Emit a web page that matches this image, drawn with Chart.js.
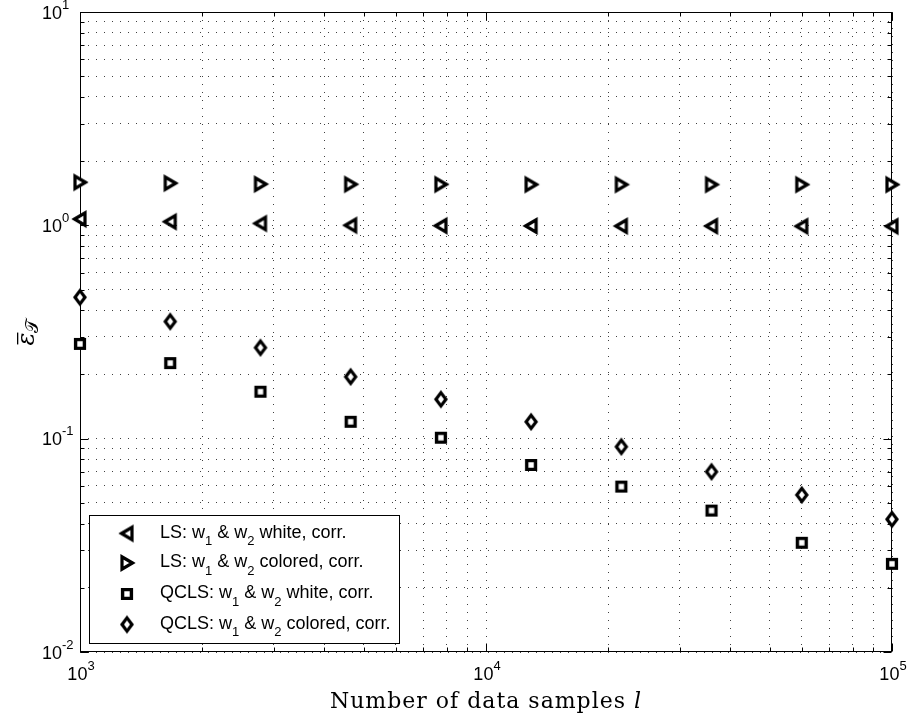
<!DOCTYPE html>
<html>
<head>
<meta charset="utf-8">
<title>Error vs number of samples</title>
<script src="https://cdn.jsdelivr.net/npm/chart.js@4.4.1/dist/chart.umd.min.js"></script>
<style>
  html, body { margin: 0; padding: 0; background: #fff; }
  #chart { display: block; }
</style>
</head>
<body>
<canvas id="chart" width="907" height="719"></canvas>
<script>
// number of data samples (log spaced, 10^3 .. 10^5)
const samples = [1000, 1668, 2783, 4642, 7743, 12915, 21544, 35938, 59948, 100000];

// mean error for each estimator
const lsWhite = [1.07, 1.04, 1.02, 1.0, 0.995, 0.993, 0.992, 0.992, 0.99, 0.99];
const lsColored = [1.59, 1.575, 1.56, 1.556, 1.555, 1.553, 1.552, 1.552, 1.552, 1.552];
const qclsWhite = [0.278, 0.226, 0.166, 0.12, 0.101, 0.0753, 0.0596, 0.046, 0.0325, 0.0259];
const qclsColored = [0.46, 0.354, 0.267, 0.195, 0.153, 0.12, 0.0917, 0.07, 0.0545, 0.0419];

const seriesLabels = [
  'LS: w_1 & w_2 white, corr.',
  'LS: w_1 & w_2 colored, corr.',
  'QCLS: w_1 & w_2 white, corr.',
  'QCLS: w_1 & w_2 colored, corr.'
];

// axis ticks
const xTicks = [1e3, 1e4, 1e5];
const xTickLabels = ['10^3', '10^4', '10^5'];
const yTicks = [1e-2, 1e-1, 1e0, 1e1];
const yTickLabels = ['10^-2', '10^-1', '10^0', '10^1'];

const sansFont = '"Liberation Sans", Arial, Helvetica, sans-serif';
const serifFont = '"DejaVu Serif", "Liberation Serif", serif';

// 1..9 x 10^k lines for a log axis
function decadeLines(lo, hi) {
  const out = [];
  const e0 = Math.round(Math.log10(lo));
  const e1 = Math.round(Math.log10(hi));
  for (let e = e0; e <= e1; e++) {
    for (let k = 1; k <= 9; k++) {
      const v = k * Math.pow(10, e);
      if (v >= lo * 0.999 && v <= hi * 1.001) out.push(v);
    }
  }
  return out;
}

// matlab-like markers: thick black outline, white inside
function makeMarker(kind) {
  const c = document.createElement('canvas');
  c.width = 24;
  c.height = 24;
  const g = c.getContext('2d');
  g.translate(12, 12);
  g.lineWidth = 3.2;
  g.lineJoin = 'miter';
  g.strokeStyle = '#000';
  g.fillStyle = '#fff';
  g.beginPath();
  if (kind === 'left') {
    g.moveTo(-5.5, 0); g.lineTo(5, -6.2); g.lineTo(5, 6.2);
  } else if (kind === 'right') {
    g.moveTo(5.5, 0); g.lineTo(-5, -6.2); g.lineTo(-5, 6.2);
  } else if (kind === 'square') {
    g.lineWidth = 3.4;
    g.rect(-4.4, -4.4, 8.8, 8.8);
  } else {
    g.moveTo(0, -6.6); g.lineTo(5, 0); g.lineTo(0, 6.6); g.lineTo(-5, 0);
  }
  g.closePath();
  g.fill();
  g.stroke();
  return c;
}

function toPoints(ys) {
  return samples.map((x, i) => ({ x: x, y: ys[i] }));
}

// draws text with _x subscripts and ^... superscripts, returns width
function richText(ctx, text, x, y, size, draw) {
  const parts = [];
  let i = 0, buf = '';
  while (i < text.length) {
    const ch = text[i];
    if (ch === '_') {
      if (buf) parts.push({ t: buf, k: 'n' });
      buf = '';
      parts.push({ t: text[i + 1], k: 'sub' });
      i += 2;
    } else if (ch === '^') {
      if (buf) parts.push({ t: buf, k: 'n' });
      buf = '';
      parts.push({ t: text.slice(i + 1), k: 'sup' });
      i = text.length;
    } else {
      buf += ch;
      i++;
    }
  }
  if (buf) parts.push({ t: buf, k: 'n' });

  let cx = x;
  parts.forEach(p => {
    const s = p.k === 'n' ? size : Math.round(size * 0.7);
    ctx.font = s + 'px ' + sansFont;
    let dy = 0;
    if (p.k === 'sub') dy = size * 0.42;
    if (p.k === 'sup') dy = -size * 0.55;
    if (draw) ctx.fillText(p.t, cx, y + dy);
    cx += ctx.measureText(p.t).width;
  });
  return cx - x;
}

const markers = [makeMarker('left'), makeMarker('right'), makeMarker('square'), makeMarker('diamond')];

// box, inner ticks, tick labels, axis titles and legend
const decorations = {
  id: 'decorations',
  beforeDatasetsDraw(chart) {
    const ctx = chart.ctx;
    const a = chart.chartArea;
    const xs = chart.scales.x, ys = chart.scales.y;
    const L = Math.round(a.left) + 0.5, R = Math.round(a.right) - 0.5;
    const T = Math.round(a.top) + 0.5, B = Math.round(a.bottom) - 0.5;
    ctx.save();
    ctx.strokeStyle = '#000';
    ctx.lineWidth = 1;
    ctx.beginPath();
    decadeLines(xs.min, xs.max).forEach(v => {
      const px = Math.round(xs.getPixelForValue(v)) + 0.5;
      const len = xTicks.includes(v) ? 8 : 4;
      ctx.moveTo(px, B); ctx.lineTo(px, B - len);
      ctx.moveTo(px, T); ctx.lineTo(px, T + len);
    });
    decadeLines(ys.min, ys.max).forEach(v => {
      const py = Math.round(ys.getPixelForValue(v)) + 0.5;
      const len = yTicks.some(t => Math.abs(t - v) < t * 1e-6) ? 8 : 4;
      ctx.moveTo(L, py); ctx.lineTo(L + len, py);
      ctx.moveTo(R, py); ctx.lineTo(R - len, py);
    });
    ctx.stroke();
    ctx.strokeRect(L, T, R - L, B - T);
    ctx.restore();
  },
  afterDraw(chart) {
    const ctx = chart.ctx;
    const a = chart.chartArea;
    const xs = chart.scales.x, ys = chart.scales.y;
    ctx.save();
    ctx.fillStyle = '#000';
    ctx.textBaseline = 'alphabetic';
    ctx.textAlign = 'left';

    // tick labels
    xTicks.forEach((v, i) => {
      const px = xs.getPixelForValue(v);
      const w = richText(ctx, xTickLabels[i], 0, 0, 18, false);
      richText(ctx, xTickLabels[i], px - w / 2 + 1, a.bottom + 28, 18, true);
    });
    yTicks.forEach((v, i) => {
      const py = ys.getPixelForValue(v);
      richText(ctx, yTickLabels[i], 42, py + 6.5, 18, true);
    });

    // x title
    ctx.font = '22px ' + serifFont;
    ctx.letterSpacing = '1px';
    const main = 'Number of data samples ';
    const wMain = ctx.measureText(main).width;
    ctx.font = 'italic 22px ' + serifFont;
    const wL = ctx.measureText('l').width;
    let tx = (a.left + a.right) / 2 - (wMain + wL) / 2;
    ctx.font = '22px ' + serifFont;
    ctx.fillText(main, tx, 708);
    ctx.font = 'italic 22px ' + serifFont;
    ctx.fillText('l', tx + wMain, 708);
    ctx.letterSpacing = '0px';

    // y title: epsilon bar, calligraphic T subscript
    ctx.save();
    ctx.translate(34, (a.top + a.bottom) / 2);
    ctx.rotate(-Math.PI / 2);
    ctx.font = 'italic 24px ' + serifFont;
    const wEps = ctx.measureText('\u03b5').width;
    ctx.font = '18px ' + serifFont;
    const wT = ctx.measureText('\ud835\udcaf').width;
    const x0 = -(wEps + wT) / 2;
    ctx.font = 'italic 24px ' + serifFont;
    ctx.fillText('\u03b5', x0, 0);
    ctx.fillRect(x0 + 1, -17, wEps - 1, 1.3);
    ctx.font = '18px ' + serifFont;
    ctx.fillText('\ud835\udcaf', x0 + wEps, 4);
    ctx.restore();

    // legend box
    const bx = 89.5, by = 515.5, bw = 310, bh = 128;
    ctx.fillStyle = '#fff';
    ctx.fillRect(bx, by, bw, bh);
    ctx.strokeStyle = '#000';
    ctx.lineWidth = 1;
    ctx.strokeRect(bx, by, bw, bh);
    ctx.fillStyle = '#000';
    const baselines = [537.5, 567, 598, 628.5];
    chart.data.datasets.forEach((ds, i) => {
      const m = ds.pointStyle;
      ctx.drawImage(m, 127 - m.width / 2, baselines[i] - 4 - m.height / 2);
      richText(ctx, ds.label, 160, baselines[i], 18, true);
    });
    ctx.restore();
  }
};

const allSeries = [lsWhite, lsColored, qclsWhite, qclsColored];

new Chart(document.getElementById('chart'), {
  type: 'scatter',
  data: {
    datasets: allSeries.map((ys, i) => ({
      label: seriesLabels[i],
      data: toPoints(ys),
      pointStyle: markers[i],
      pointRadius: 7,
      showLine: false,
      clip: false
    }))
  },
  options: {
    responsive: false,
    animation: false,
    devicePixelRatio: 1,
    layout: { padding: { left: 80, right: 15, top: 12, bottom: 67 } },
    plugins: { legend: { display: false }, tooltip: { enabled: false } },
    scales: {
      x: {
        type: 'logarithmic',
        min: 1000,
        max: 100000,
        afterBuildTicks: s => { s.ticks = decadeLines(1000, 100000).map(v => ({ value: v })); },
        ticks: { display: false },
        grid: { color: 'rgba(0,0,0,0.75)', lineWidth: 1, drawTicks: false },
        border: { display: false, dash: [1, 7] }
      },
      y: {
        type: 'logarithmic',
        min: 0.01,
        max: 10,
        afterBuildTicks: s => { s.ticks = decadeLines(0.01, 10).map(v => ({ value: v })); },
        ticks: { display: false },
        grid: { color: 'rgba(0,0,0,0.75)', lineWidth: 1, drawTicks: false },
        border: { display: false, dash: [1, 7] }
      }
    }
  },
  plugins: [decorations]
});
</script>
</body>
</html>
